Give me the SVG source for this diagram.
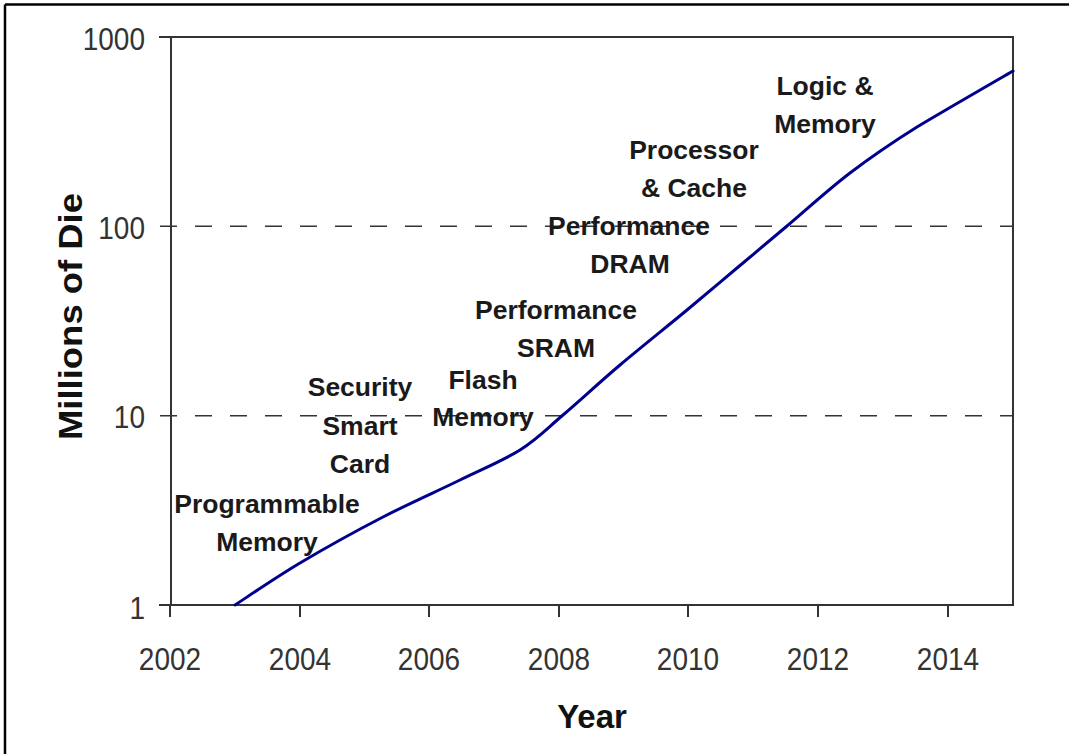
<svg xmlns="http://www.w3.org/2000/svg" width="1069" height="754" viewBox="0 0 1069 754">
  <style>
    .frame { stroke: #000; stroke-width: 2.5; fill: none; }
    .axis { stroke: #333; stroke-width: 2; fill: none; }
    .grid { stroke: #333; stroke-width: 1.6; stroke-dasharray: 17 18; fill: none; }
    .series { stroke: #00008f; stroke-width: 3; fill: none; stroke-linejoin: round; stroke-linecap: round; }
    .tick { font-family: "Liberation Sans", Arial, sans-serif; font-size: 28px; fill: #333; }
    .title { font-family: "Liberation Sans", Arial, sans-serif; font-size: 33px; font-weight: bold; fill: #111; }
    .note { font-family: "Liberation Sans", Arial, sans-serif; font-size: 26.5px; font-weight: bold; fill: #1a1a1a; text-anchor: middle; }
  </style>

  <rect width="1069" height="754" fill="#fff"/>
  <!-- outer frame (top and left edges) -->
  <path class="frame" d="M5 4.5 H1069 M5 4.5 V754"/>

  <!-- plot box and ticks -->
  <g id="axes">
    <path class="axis" d="M159 37 H1013 V605 H171 V37"/>
    <path class="axis" d="M159 605 H171"/>
    <path class="axis" d="M170 605 V617 M300 605 V617 M429 605 V617 M559 605 V617 M688 605 V617 M818 605 V617 M948 605 V617"/>
  </g>

  <!-- decade gridlines -->
  <g id="gridlines">
    <path class="grid" d="M160 226.3 H1013"/>
    <path class="grid" d="M160 415.7 H1013"/>
  </g>

  <!-- y tick labels -->
  <g id="y-ticks" text-anchor="end">
    <text class="tick" transform="translate(145,50) scale(1,1.12)">1000</text>
    <text class="tick" transform="translate(145,239) scale(1,1.12)">100</text>
    <text class="tick" transform="translate(145,428) scale(1,1.12)">10</text>
    <text class="tick" transform="translate(145,619) scale(1,1.12)">1</text>
  </g>

  <!-- x tick labels -->
  <g id="x-ticks" text-anchor="middle">
    <text class="tick" transform="translate(170,670) scale(1,1.12)">2002</text>
    <text class="tick" transform="translate(300,670) scale(1,1.12)">2004</text>
    <text class="tick" transform="translate(429,670) scale(1,1.12)">2006</text>
    <text class="tick" transform="translate(559,670) scale(1,1.12)">2008</text>
    <text class="tick" transform="translate(688,670) scale(1,1.12)">2010</text>
    <text class="tick" transform="translate(818,670) scale(1,1.12)">2012</text>
    <text class="tick" transform="translate(948,670) scale(1,1.12)">2014</text>
  </g>

  <!-- axis titles -->
  <g id="axis-titles">
    <text class="title" x="592" y="728" text-anchor="middle">Year</text>
    <text class="title" transform="translate(82,316.5) rotate(-90)" text-anchor="middle" textLength="247" lengthAdjust="spacingAndGlyphs">Millions of Die</text>
  </g>

  <!-- die volume curve -->
  <g id="connectors">
    <path class="series" d="M235 605 C245.8 598 275.3 577.7 300 563 C324.7 548.3 356.3 530.8 383 517 C409.7 503.2 437.2 491.2 460 480 C482.8 468.8 502.8 460.8 520 450 C537.2 439.2 546.3 429.2 563 415 C579.7 400.8 599.3 382.5 620 365 C640.7 347.5 667.5 326.2 687 310 C706.5 293.8 720.3 282 737 268 C753.7 254 768.2 241.8 787 226 C805.8 210.2 828.3 189.5 850 173 C871.7 156.5 889.8 144 917 127 C944.2 110.7 997 80.3 1013 71"/>
  </g>

  <!-- application annotations -->
  <g id="programmable-memory">
    <text class="note" x="267" y="513">Programmable</text>
    <text class="note" x="267" y="551">Memory</text>
  </g>
  <g id="security-smart-card">
    <text class="note" x="360" y="396">Security</text>
    <text class="note" x="360" y="435">Smart</text>
    <text class="note" x="360" y="473">Card</text>
  </g>
  <g id="flash-memory">
    <text class="note" x="483" y="389">Flash</text>
    <text class="note" x="483" y="426">Memory</text>
  </g>
  <g id="performance-sram">
    <text class="note" x="556" y="319">Performance</text>
    <text class="note" x="556" y="357">SRAM</text>
  </g>
  <g id="performance-dram">
    <text class="note" x="629" y="235">Performance</text>
    <text class="note" x="630" y="273">DRAM</text>
  </g>
  <g id="processor-cache">
    <text class="note" x="694" y="159">Processor</text>
    <text class="note" x="694" y="197">&amp; Cache</text>
  </g>
  <g id="logic-memory">
    <text class="note" x="825" y="95">Logic &amp;</text>
    <text class="note" x="825" y="133">Memory</text>
  </g>
</svg>
